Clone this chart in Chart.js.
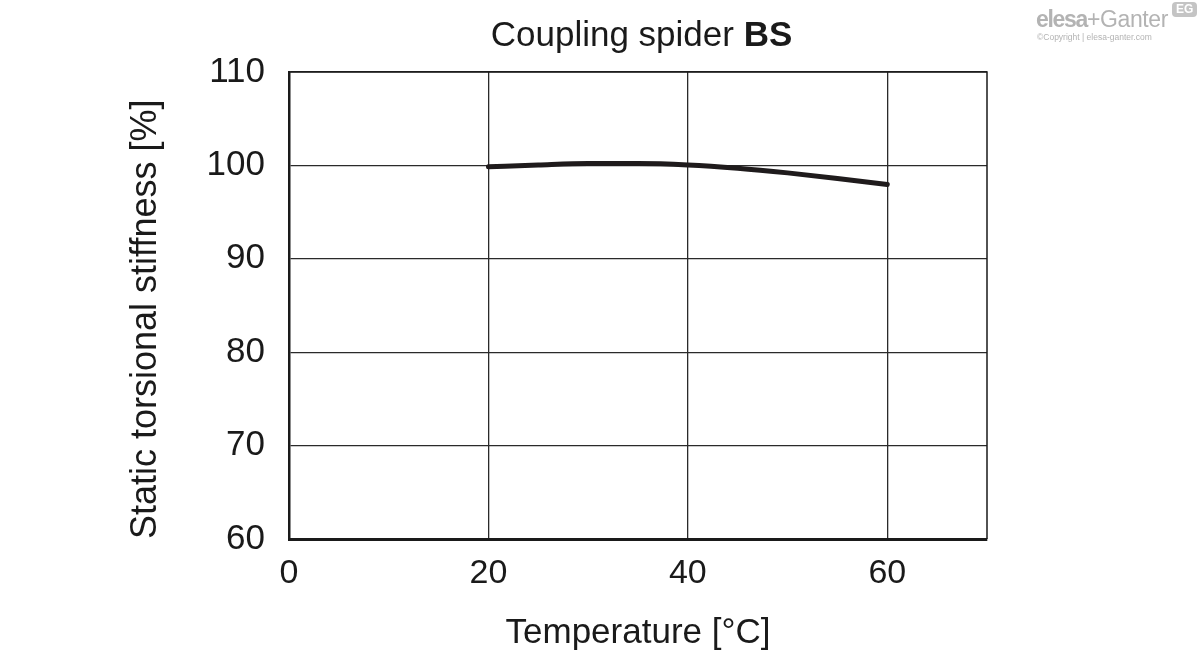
<!DOCTYPE html>
<html>
<head>
<meta charset="utf-8">
<script src="https://cdn.jsdelivr.net/npm/chart.js@4/dist/chart.umd.min.js"></script>
<style>
  body { margin: 0; background: #fff; }
  #wrap { position: relative; width: 1200px; height: 669px; font-family: "Liberation Sans", Arial, sans-serif; }
  #title { position: absolute; left: 0; width: 1283px; top: 14px; text-align: center; font-size: 35px; color: #1a1a1a; line-height: 40px; }
  #logo { position: absolute; left: 1036px; top: 7px; color: #b3b3b3; }
  #logo .name { font-size: 23px; line-height: 25px; letter-spacing: -0.4px; white-space: nowrap; }
  #logo .name b { font-weight: 900; letter-spacing: -1.3px; }
  #logo .copy { font-size: 8.5px; line-height: 10px; white-space: nowrap; margin-left: 1px; }
  #logo .eg { position: absolute; left: 136px; top: -5px; background: #c4c4c4; border-radius: 4px; font-size: 12px; line-height: 15px; font-weight: bold; padding: 0 4px; color: #fff; }
</style>
</head>
<body>
<div id="wrap">
  <canvas id="chart" width="1200" height="669"></canvas>
  <div id="title">Coupling spider <b>BS</b></div>
  <div id="logo">
    <div class="name"><b>elesa</b>+Ganter</div>
    <div class="copy">©Copyright | elesa-ganter.com</div>
    <div class="eg">EG</div>
  </div>
</div>
<script>
// values
const temperatures = [20, 25, 30, 35, 40, 45, 50, 55, 60];
const stiffness = [99.85, 100.05, 100.2, 100.2, 100.05, 99.7, 99.2, 98.6, 97.95];
const xTicks = [0, 20, 40, 60];
const yTicks = [60, 70, 80, 90, 100, 110];

const FONT = '"Liberation Sans", Arial, sans-serif';

// top and right frame lines (Chart.js only draws the axis borders)
const frame = {
  id: 'frame',
  afterDraw(chart) {
    const { ctx, chartArea: a } = chart;
    ctx.save();
    ctx.strokeStyle = '#1a1a1a';
    ctx.lineWidth = 1.5;
    ctx.beginPath();
    ctx.moveTo(a.left, a.top);
    ctx.lineTo(a.right, a.top);
    ctx.lineTo(a.right, a.bottom);
    ctx.stroke();
    ctx.restore();
  }
};

new Chart(document.getElementById('chart'), {
  type: 'line',
  data: {
    datasets: [{
      data: temperatures.map((t, i) => ({ x: t, y: stiffness[i] })),
      borderColor: '#1f1b1c',
      borderWidth: 5,
      borderCapStyle: 'round',
      pointRadius: 0,
      cubicInterpolationMode: 'monotone',
      fill: false
    }]
  },
  options: {
    responsive: false,
    animation: false,
    layout: { padding: { left: 0, right: 213, top: 72, bottom: 0 } },
    plugins: { legend: { display: false }, tooltip: { enabled: false } },
    scales: {
      x: {
        type: 'linear',
        min: 0,
        max: 70,
        afterBuildTicks: (axis) => { axis.ticks = xTicks.map(v => ({ value: v })); },
        afterFit: (axis) => { axis.height = 130; },
        grid: { color: '#2a2a2a', lineWidth: 1.3, drawTicks: false },
        border: { color: '#1a1a1a', width: 3 },
        ticks: { padding: 14, color: '#1a1a1a', font: { family: FONT, size: 34 } },
        title: {
          display: true,
          text: 'Temperature [°C]',
          color: '#1a1a1a',
          font: { family: FONT, size: 35 },
          padding: { top: 0, bottom: 15 }
        }
      },
      y: {
        min: 60,
        max: 110,
        afterBuildTicks: (axis) => { axis.ticks = yTicks.map(v => ({ value: v })); },
        afterFit: (axis) => { axis.width = 289; },
        grid: { color: '#2a2a2a', lineWidth: 1.3, drawTicks: false },
        border: { color: '#1a1a1a', width: 2.5 },
        ticks: { padding: 24, color: '#1a1a1a', font: { family: FONT, size: 35 } },
        title: {
          display: true,
          align: 'start',
          text: 'Static torsional stiffness [%]',
          color: '#1a1a1a',
          font: { family: FONT, size: 36 },
          padding: { top: 124, bottom: 0 }
        }
      }
    }
  },
  plugins: [frame]
});
</script>
</body>
</html>
